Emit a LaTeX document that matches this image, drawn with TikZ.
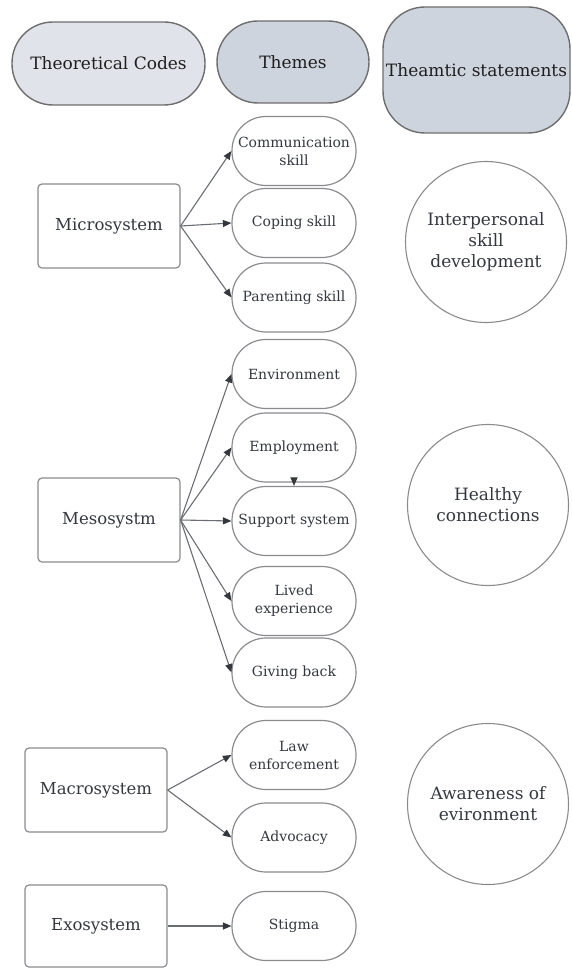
\documentclass[tikz,border=0pt]{standalone}
\usepackage{fontspec}
\setmainfont{DejaVu Serif}
\usetikzlibrary{arrows.meta}
\definecolor{hdrA}{HTML}{E0E3E9}
\definecolor{hdrB}{HTML}{CED4DD}
\definecolor{hdrline}{HTML}{6E6E6E}
\definecolor{shline}{HTML}{8A8B8E}
\definecolor{txt}{HTML}{33373F}
\definecolor{hdrtxt}{HTML}{1E1E1E}
\definecolor{arr}{HTML}{6A6D73}
\definecolor{tip}{HTML}{33373E}
\tikzset{
  hdr/.style={draw=hdrline, line width=1.4pt, text=hdrtxt, align=center, inner sep=0pt,
    font=\fontsize{17}{20}\selectfont},
  codebox/.style={draw=shline, line width=1.2pt, rounded corners=4pt, minimum width=142pt,
    minimum height=84pt, text=txt, align=center, inner sep=0pt, font=\fontsize{16.5}{20}\selectfont},
  pill/.style={draw=shline, line width=1.2pt, rounded corners=34pt, minimum width=124pt,
    minimum height=69pt, text=txt, align=center, inner sep=0pt, font=\fontsize{14}{18}\selectfont},
  stmt/.style={draw=shline, line width=1.1pt, circle, minimum size=161pt, text=txt,
    align=center, inner sep=0pt, font=\fontsize{17}{21}\selectfont},
  link/.style={draw=arr, line width=1.1pt, -{Triangle[length=8.5pt,width=7pt,fill=tip,color=tip]}}
}
\begin{document}
\begin{tikzpicture}[x=1pt,y=-1pt]
\useasboundingbox (0,0) rectangle (571,968);
% headers
\node[hdr, fill=hdrA, rounded corners=41pt, minimum width=193pt, minimum height=83pt] (tc) at (108.5,63.5) {Theoretical Codes};
\node[hdr, fill=hdrB, rounded corners=41pt, minimum width=152pt, minimum height=82pt] (th) at (293,62) {Themes};
\node[hdr, fill=hdrB, rounded corners=42pt, minimum width=187pt, minimum height=126pt] (ts) at (476.5,70) {Theamtic statements};
% theoretical codes
\node[codebox] (micro) at (109,226) {Microsystem};
\node[codebox] (meso) at (109,520) {Mesosystm};
\node[codebox] (macro) at (96,790) {Macrosystem};
\node[codebox, minimum height=82pt] (exo) at (96,926) {Exosystem};
% themes
\node[pill] (comm) at (294,151) {Communication\\skill};
\node[pill] (cope) at (294,223) {Coping skill};
\node[pill] (par) at (294,297.5) {Parenting skill};
\node[pill] (env) at (294,374) {Environment};
\node[pill] (emp) at (294,447.5) {Employment};
\node[pill] (sup) at (294,521) {Support system};
\node[pill] (lived) at (294,601) {Lived\\experience};
\node[pill] (give) at (294,672.5) {Giving back};
\node[pill] (law) at (294,755) {Law\\enforcement};
\node[pill] (adv) at (294,837.5) {Advocacy};
\node[pill] (stig) at (294,926) {Stigma};
% statements
\node[stmt] (s1) at (486,242) {Interpersonal\\skill\\development};
\node[stmt] (s2) at (488,505) {Healthy\\connections};
\node[stmt] (s3) at (488,804) {Awareness of\\evironment};
% connectors
\draw[link] (micro.east) -- (comm.west);
\draw[link] (micro.east) -- (cope.west);
\draw[link] (micro.east) -- (par.west);
\draw[link] (meso.east) -- (env.west);
\draw[link] (meso.east) -- (emp.west);
\draw[link] (meso.east) -- (sup.west);
\draw[link] (meso.east) -- (lived.west);
\draw[link] (meso.east) -- (give.west);
\draw[link] (emp.south) -- (sup.north);
\draw[link] (macro.east) -- (law.west);
\draw[link] (macro.east) -- (adv.west);
\draw[link] (exo.east) -- (stig.west);
\end{tikzpicture}
\end{document}
